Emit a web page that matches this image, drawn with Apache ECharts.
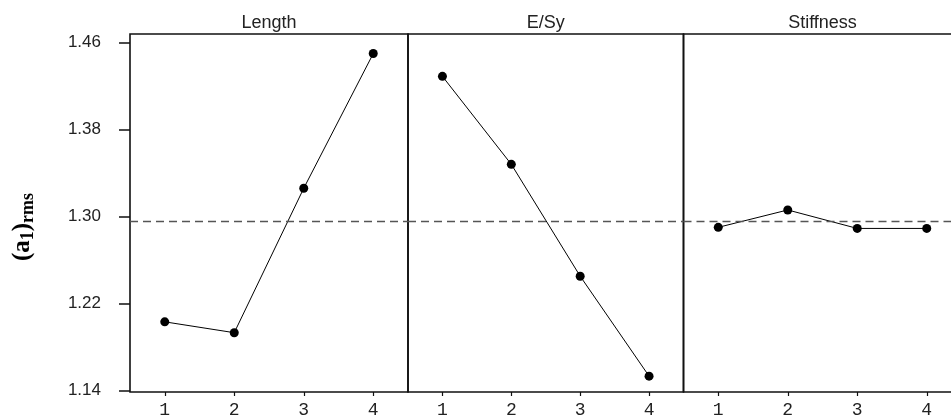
<!DOCTYPE html>
<html><head><meta charset="utf-8">
<script src="https://cdn.jsdelivr.net/npm/echarts@6/dist/echarts.min.js"></script>
<style>html,body{margin:0;padding:0;background:#fff}#c{width:951px;height:420px}</style>
</head><body><div id="c"></div>
<script>
const panels = ['Length', 'E/Sy', 'Stiffness'];
const levels = ['1', '2', '3', '4'];
const lengthVals = [1.203, 1.193, 1.326, 1.450];
const esyVals = [1.429, 1.348, 1.245, 1.153];
const stiffVals = [1.290, 1.306, 1.289, 1.289];
const meanVal = 1.2953;
const yTicks = [1.14, 1.22, 1.30, 1.38, 1.46];
const yLabels = ['1.14', '1.22', '1.30', '1.38', '1.46'];
const yName = '(a{s|1}){s|rms}';

const seriesVals = [lengthVals, esyVals, stiffVals];
const gridBoxes = [
  {left: 130, width: 278},
  {left: 408, width: 275.5},
  {left: 683.5, width: 278}
];
const TOP = 34, HEIGHT = 358;
const YMIN = 1.1384, YMAX = 1.468;

const chart = echarts.init(document.getElementById('c'), null, {renderer: 'canvas'});
const grids = [], xAxes = [], yAxes = [], series = [], graphics = [];
gridBoxes.forEach((g, i) => {
  grids.push({left: g.left, width: g.width, top: TOP, height: HEIGHT, show: true,
    borderColor: '#111', borderWidth: 1.6, backgroundColor: 'transparent', outerBoundsMode: 'none'});
  xAxes.push({type: 'category', gridIndex: i, data: levels, boundaryGap: true,
    axisLine: {show: false},
    axisTick: {show: true, alignWithLabel: true, length: 4, lineStyle: {color: '#111', width: 1.2}},
    axisLabel: {fontFamily: 'Liberation Mono', fontSize: 18, color: '#222', margin: 9},
    splitLine: {show: false}});
  yAxes.push({type: 'value', gridIndex: i, min: YMIN, max: YMAX, show: i === 0,
    axisLine: {show: false},
    splitLine: {show: false},
    axisTick: {show: true, length: 11, customValues: yTicks, lineStyle: {color: '#111', width: 1.5}},
    axisLabel: {show: true, customValues: yTicks, margin: 29, fontFamily: 'Liberation Sans', fontSize: 17, color: '#222',
      formatter: v => { const k = yTicks.findIndex(t => Math.abs(t - v) < 1e-6); return k >= 0 ? yLabels[k] : ''; }}});
  series.push({type: 'line', xAxisIndex: i, yAxisIndex: i, data: seriesVals[i],
    symbol: 'circle', symbolSize: 9, itemStyle: {color: '#000'},
    lineStyle: {color: '#000', width: 1},
    markLine: {silent: true, symbol: 'none', precision: 4, label: {show: false},
      lineStyle: {type: [8, 5], color: '#555', width: 1.3},
      data: [{yAxis: meanVal}]}});
  graphics.push({type: 'text', x: g.left + g.width / 2, y: 23,
    style: {text: panels[i], align: 'center', verticalAlign: 'middle',
      font: '18px "Liberation Sans"', fill: '#222'}});
});
graphics.push({type: 'text', x: 23, y: 227, rotation: Math.PI / 2,
  style: {text: yName, align: 'center', verticalAlign: 'middle',
    font: 'bold 25px "Liberation Serif"', fill: '#000',
    rich: {s: {font: 'bold 18px "Liberation Serif"', fill: '#000', padding: [10, 0, 0, 0]}}}});

chart.setOption({
  animation: false,
  backgroundColor: '#fff',
  grid: grids, xAxis: xAxes, yAxis: yAxes, series: series, graphic: graphics
});
</script></body></html>
